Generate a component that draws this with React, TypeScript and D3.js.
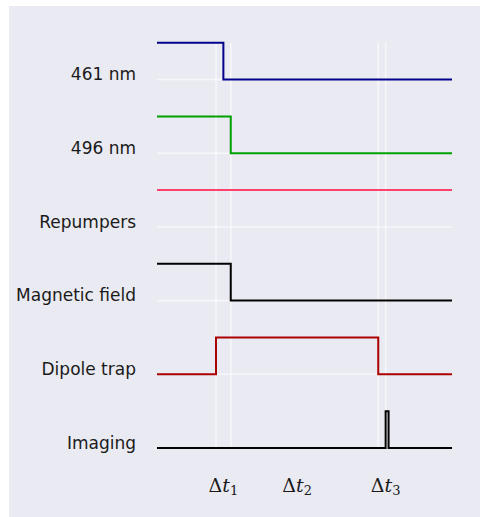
import React from "react";
import * as d3 from "d3";

// Channels, top to bottom, and the row each one sits on
const channels = ["461 nm", "496 nm", "Repumpers", "Magnetic field", "Dipole trap", "Imaging"];
const rows = [5, 4, 3, 2, 1, 0];

// Switching times (arbitrary units) and on/off state after each time
const times461 = [0, 2.25, 10];
const states461 = [1, 0, 0];
const times496 = [0, 2.5, 10];
const states496 = [1, 0, 0];
const timesRepump = [0, 10];
const statesRepump = [1, 1];
const timesField = [0, 2.5, 10];
const statesField = [1, 0, 0];
const timesDipole = [0, 2.0, 7.5, 10];
const statesDipole = [0, 1, 0, 0];
const timesImaging = [0, 7.75, 7.85, 10];
const statesImaging = [0, 1, 0, 0];

const channelTimes = [times461, times496, timesRepump, timesField, timesDipole, timesImaging];
const channelStates = [states461, states496, statesRepump, statesField, statesDipole, statesImaging];
const channelColors = ["#00008b", "#00a000", "#ff3f6c", "#000000", "#aa0000", "#000000"];

// Vertical reference lines and interval labels
const gridTimes = [2.0, 2.5, 7.5, 7.75];
const intervalTimes = [2.25, 4.75, 7.75];
const intervalSubs = ["1", "2", "3"];

const W = 480;
const H = 517;
const margin = { left: 157, right: 28, top: 42.7, bottom: 69 };

export default function App() {
  const x = d3.scaleLinear().domain([0, 10]).range([margin.left, W - margin.right]);
  const y = d3.scaleLinear().domain([0, 5.5]).range([H - margin.bottom, margin.top]);

  const line = d3
    .line<[number, number]>()
    .x((d) => x(d[0]))
    .y((d) => y(d[1]))
    .curve(d3.curveStepAfter);

  const yTicks = rows;

  return (
    <svg
      width={W}
      height={H}
      style={{ position: "absolute", left: 0, top: 0 }}
    >
      <rect x={9} y={6} width={W - 9} height={H - 6} fill="#eaeaf2" />

      {/* horizontal grid */}
      {yTicks.map((r) => (
        <line
          key={"h" + r}
          x1={x(0)}
          x2={x(10)}
          y1={y(r)}
          y2={y(r)}
          stroke="#ffffff"
          strokeOpacity={0.6}
          strokeWidth={1.6}
        />
      ))}
      {/* vertical grid */}
      {gridTimes.map((t) => (
        <line
          key={"v" + t}
          x1={x(t)}
          x2={x(t)}
          y1={y(0)}
          y2={y(5.5)}
          stroke="#ffffff"
          strokeOpacity={0.6}
          strokeWidth={1.6}
        />
      ))}

      {/* channel traces */}
      {channels.map((name, i) => {
        const pts: [number, number][] = channelTimes[i].map((t, k) => [
          t,
          rows[i] + 0.5 * channelStates[i][k],
        ]);
        return (
          <path
            key={name}
            d={line(pts) || ""}
            fill="none"
            stroke={channelColors[i]}
            strokeWidth={2}
            strokeLinejoin="miter"
          />
        );
      })}

      {/* channel labels */}
      {channels.map((name, i) => (
        <text
          key={"l" + name}
          x={136}
          y={y(rows[i]) + 0.8}
          textAnchor="end"
          fontFamily="DejaVu Sans"
          fontSize={17}
          fill="#1a1a1a"
        >
          {name}
        </text>
      ))}

      {/* interval labels */}
      {intervalTimes.map((t, i) => (
        <text
          key={"d" + i}
          x={x(t)}
          y={492}
          textAnchor="middle"
          fontFamily="DejaVu Serif"
          fontSize={19}
          fill="#1a1a1a"
        >
          <tspan>Δ</tspan>
          <tspan fontStyle="italic">t</tspan>
          <tspan fontSize={13} dy={3}>
            {intervalSubs[i]}
          </tspan>
        </text>
      ))}
    </svg>
  );
}
